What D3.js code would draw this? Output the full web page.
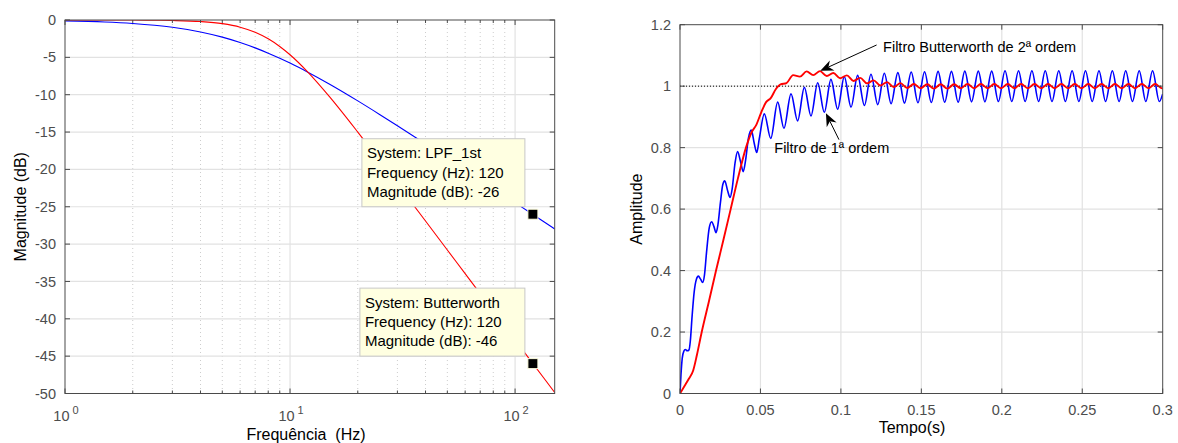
<!DOCTYPE html>
<html><head><meta charset="utf-8">
<script src="https://cdn.jsdelivr.net/npm/d3@7"></script>
<style>
body{margin:0;background:#fff;}
svg{display:block;}
text{font-family:"Liberation Sans",Arial,Helvetica,sans-serif;}
</style>
</head><body>
<svg id="c" width="1178" height="443"></svg>
<script>
// ---------------- data: Bode magnitude ----------------
const freqHz   = [1, 1.5, 2, 2.5, 3, 4, 5, 6, 7, 8, 9, 10, 12, 15, 20, 25, 30, 40, 50, 60, 70, 80, 100, 120, 150];
const lpf1stDb = [-0.12, -0.26, -0.46, -0.70, -0.97, -1.60, -2.29, -3.01, -3.73, -4.44, -5.12, -5.77, -6.99, -8.60, -10.83, -12.64, -14.15, -16.58, -18.48, -20.04, -21.37, -22.52, -24.45, -26.03, -27.97];
const butterDb = [0.00, 0.00, -0.01, -0.03, -0.07, -0.21, -0.49, -0.96, -1.64, -2.52, -3.54, -4.65, -6.97, -10.29, -15.00, -18.80, -21.93, -26.91, -30.79, -33.95, -36.63, -38.95, -42.82, -45.99, -49.87];
const magTicks = [0, -5, -10, -15, -20, -25, -30, -35, -40, -45, -50];
const decadeTicks = [1, 10, 100];
const decadeExp = ["0", "1", "2"];
const minorFreqTicks = [2, 3, 4, 5, 6, 7, 8, 9, 20, 30, 40, 50, 60, 70, 80, 90];
const tipSystems = ["LPF_1st", "Butterworth"];
const tipFreq = [120, 120];
const tipMag = [-26, -46];

// ---------------- data: step responses ----------------
const timeTicks = [0, 0.05, 0.1, 0.15, 0.2, 0.25, 0.3];
const timeTickLabels = ["0", "0.05", "0.1", "0.15", "0.2", "0.25", "0.3"];
const ampTicks = [0, 0.2, 0.4, 0.6, 0.8, 1, 1.2];
const ampTickLabels = ["0", "0.2", "0.4", "0.6", "0.8", "1", "1.2"];
const firstOrderStep = [
 [0,0],[0.0006,0.06],[0.0014,0.115],[0.0024,0.138],[0.0033,0.143],[0.0045,0.139],[0.0056,0.142],
 [0.0064,0.17],[0.0075,0.25],[0.0088,0.33],[0.0102,0.372],[0.0114,0.382],[0.0128,0.372],[0.0141,0.361],
 [0.0152,0.385],[0.0165,0.46],[0.0182,0.54],[0.0197,0.559],[0.0211,0.543],[0.0224,0.523],[0.0236,0.55],
 [0.0251,0.62],[0.0266,0.68],[0.0278,0.692],[0.0296,0.66],[0.0311,0.638],[0.0324,0.665],[0.0342,0.75],
 [0.0358,0.787],[0.0376,0.755],[0.0393,0.722],[0.0408,0.76],[0.0425,0.83],[0.0443,0.857],[0.0461,0.815],
 [0.0477,0.784],[0.0493,0.83],[0.0524,0.910],[0.0564,0.830],[0.0607,0.948],[0.0646,0.863],[0.0690,0.975],
 [0.0731,0.887],[0.0773,0.996],[0.0814,0.903],[0.0856,1.011],[0.0897,0.915],[0.0938,1.022],[0.0980,0.925],
 [0.1021,1.031],[0.1063,0.932],[0.1104,1.035],[0.1146,0.937],[0.1187,1.039],[0.1229,0.940],[0.1270,1.042],
 [0.1312,0.943],[0.1354,1.044],[0.1395,0.945],[0.1437,1.046],[0.1479,0.946],[0.1520,1.047],[0.1562,0.947],
 [0.1604,1.048],[0.1645,0.948],[0.1687,1.048],[0.1729,0.948],[0.1770,1.049],[0.1812,0.949],[0.1854,1.049],
 [0.1895,0.949],[0.1937,1.049],[0.1979,0.950],[0.2020,1.050],[0.2062,0.950],[0.2104,1.050],[0.2145,0.950],
 [0.2187,1.050],[0.2229,0.950],[0.2270,1.050],[0.2312,0.950],[0.2354,1.050],[0.2395,0.950],[0.2437,1.050],
 [0.2479,0.950],[0.2520,1.050],[0.2562,0.950],[0.2604,1.050],[0.2645,0.950],[0.2687,1.050],[0.2729,0.950],
 [0.2770,1.050],[0.2812,0.950],[0.2854,1.050],[0.2895,0.950],[0.2937,1.050],[0.2979,0.950],[0.3000,0.975]
];
const butterStep = [
 [0,0],[0.003,0.026],[0.0055,0.048],[0.0082,0.075],[0.0105,0.125],[0.0135,0.20],[0.018,0.30],[0.0224,0.40],
 [0.027,0.50],[0.0315,0.60],[0.036,0.70],[0.041,0.80],[0.0445,0.85],[0.0475,0.875],[0.0505,0.915],[0.0535,0.948],
 [0.0565,0.962],[0.0595,0.99],[0.0625,1.006],[0.0662,1.010],[0.0703,1.036],[0.0745,1.031],[0.0787,1.048],
 [0.0828,1.036],[0.0870,1.049],[0.0912,1.033],[0.0953,1.043],[0.0995,1.026],[0.1037,1.035],[0.1078,1.017],
 [0.1120,1.027],[0.1162,1.009],[0.1203,1.019],[0.1245,1.002],[0.1287,1.013],[0.1328,0.997],[0.1370,1.010],
 [0.1412,0.994],[0.1453,1.007],[0.1495,0.993],[0.1537,1.006],[0.1578,0.992],[0.1620,1.006],[0.1662,0.992],
 [0.1703,1.006],[0.1745,0.993],[0.1787,1.007],[0.1828,0.993],[0.1870,1.007],[0.1912,0.993],[0.1953,1.007],
 [0.1995,0.993],[0.2037,1.007],[0.2078,0.993],[0.2120,1.007],[0.2162,0.993],[0.2203,1.007],[0.2245,0.993],
 [0.2287,1.007],[0.2328,0.993],[0.2370,1.007],[0.2412,0.993],[0.2453,1.007],[0.2495,0.993],[0.2537,1.007],
 [0.2578,0.993],[0.2620,1.007],[0.2662,0.993],[0.2703,1.007],[0.2745,0.993],[0.2787,1.007],[0.2828,0.993],
 [0.2870,1.007],[0.2912,0.993],[0.2953,1.007],[0.2995,0.993],[0.3000,0.994]
];
const steadyLevel = 1;
const annotations = [
 {text:"Filtro Butterworth de 2ª ordem", textT:0.1262, textV:1.129, tailT:0.1222, tailV:1.134, tipT:0.0872, tipV:1.050},
 {text:"Filtro de 1ª ordem", textT:0.0586, textV:0.800, tailT:0.0988, tailV:0.826, tipT:0.0907, tipV:0.912}
];

// ---------------- drawing ----------------
const svg = d3.select("#c");
const AX = "#4a4a4a", LBL = "#4d4d4d", GRID = "#e2e2e2", TICKLEN = 5;
const FS = "14.5px";

// ===== Left panel =====
const L = {l:65, r:554.7, t:20, b:393.5};
const xF = d3.scaleLog().domain([1,150]).range([L.l, L.r]);
const yM = d3.scaleLinear().domain([-50,0]).range([L.b, L.t]);
const gL = svg.append("g");

svg.append("clipPath").attr("id","clipL").append("rect")
  .attr("x",L.l).attr("y",L.t).attr("width",L.r-L.l).attr("height",L.b-L.t);

gL.selectAll(".mg").data(minorFreqTicks).join("line")
  .attr("x1",d=>xF(d)).attr("x2",d=>xF(d)).attr("y1",L.t).attr("y2",L.b)
  .attr("stroke","#cdcdcd").attr("stroke-width",1).attr("stroke-dasharray","1,3");
gL.selectAll(".gx").data(decadeTicks.filter(d=>d>1)).join("line")
  .attr("x1",d=>xF(d)).attr("x2",d=>xF(d)).attr("y1",L.t).attr("y2",L.b)
  .attr("stroke",GRID).attr("stroke-width",1.2);
gL.selectAll(".gy").data(magTicks.filter(d=>d>-50 && d<0)).join("line")
  .attr("x1",L.l).attr("x2",L.r).attr("y1",d=>yM(d)).attr("y2",d=>yM(d))
  .attr("stroke",GRID).attr("stroke-width",1.2);

const bodeLine = (vals)=> d3.line().curve(d3.curveMonotoneX)
  .x((d,i)=>xF(freqHz[i])).y(d=>yM(d))(vals);
gL.append("path").attr("d",bodeLine(lpf1stDb)).attr("clip-path","url(#clipL)")
  .attr("fill","none").attr("stroke","#0000ff").attr("stroke-width",1.1);
gL.append("path").attr("d",bodeLine(butterDb)).attr("clip-path","url(#clipL)")
  .attr("fill","none").attr("stroke","#ff0000").attr("stroke-width",1.1);

function frame(g, B){
  g.append("rect").attr("x",B.l).attr("y",B.t).attr("width",B.r-B.l).attr("height",B.b-B.t)
   .attr("fill","none").attr("stroke",AX).attr("stroke-width",1);
}
frame(gL, L);
gL.selectAll(".tyl").data(magTicks).join("line")
  .attr("x1",L.l).attr("x2",L.l+TICKLEN).attr("y1",d=>yM(d)).attr("y2",d=>yM(d)).attr("stroke",AX);
gL.selectAll(".tyr").data(magTicks).join("line")
  .attr("x1",L.r).attr("x2",L.r-TICKLEN).attr("y1",d=>yM(d)).attr("y2",d=>yM(d)).attr("stroke",AX);
gL.selectAll(".txb").data(decadeTicks).join("line")
  .attr("x1",d=>xF(d)).attr("x2",d=>xF(d)).attr("y1",L.b).attr("y2",L.b-TICKLEN).attr("stroke",AX);
gL.selectAll(".txt").data(decadeTicks).join("line")
  .attr("x1",d=>xF(d)).attr("x2",d=>xF(d)).attr("y1",L.t).attr("y2",L.t+TICKLEN).attr("stroke",AX);
gL.selectAll(".tmb").data(minorFreqTicks).join("line")
  .attr("x1",d=>xF(d)).attr("x2",d=>xF(d)).attr("y1",L.b).attr("y2",L.b-3).attr("stroke",AX);
gL.selectAll(".tmt").data(minorFreqTicks).join("line")
  .attr("x1",d=>xF(d)).attr("x2",d=>xF(d)).attr("y1",L.t).attr("y2",L.t+3).attr("stroke",AX);

gL.selectAll(".yl").data(magTicks).join("text")
  .attr("x",L.l-9).attr("y",d=>yM(d)).attr("dy","0.35em").attr("text-anchor","end")
  .attr("fill",LBL).style("font-size",FS).text(d=>String(d));
const xl = gL.selectAll(".xl").data(decadeTicks).join("text")
  .attr("x",d=>xF(d)+1).attr("y",L.b+27).attr("text-anchor","middle")
  .attr("fill",LBL).style("font-size",FS);
xl.append("tspan").text("10");
xl.append("tspan").attr("dx","3").attr("dy","-7").style("font-size","11px").text((d,i)=>decadeExp[i]);

gL.append("text").attr("transform",`translate(26,${(L.t+L.b)/2}) rotate(-90)`)
  .attr("text-anchor","middle").attr("fill","#000").style("font-size","16px").text("Magnitude (dB)");
gL.append("text").attr("x",306).attr("y",440).attr("text-anchor","middle")
  .attr("fill","#000").style("font-size","16px").text("Frequência\u00a0 (Hz)");

// data tips
const tipWidths = [163, 165];
tipSystems.forEach((sys,i)=>{
  const mx = xF(tipFreq[i]), my = yM(tipMag[i]);
  const lines = ["System: "+sys, "Frequency (Hz): "+tipFreq[i], "Magnitude (dB): "+tipMag[i]];
  const g = gL.append("g");
  const right = mx-8, bottom = my-7.5, h = 68, w = tipWidths[i];
  const left = right - w;
  g.append("rect").attr("x",left).attr("y",bottom-h).attr("width",w).attr("height",h)
    .attr("fill","#ffffe1").attr("stroke","#c8c8c8").attr("stroke-width",1);
  lines.forEach((s,k)=>{
    g.append("text").attr("x",left+5).attr("y",bottom-h+14.5+k*19.3).attr("dy","0.35em")
      .attr("fill","#000").style("font-size","15px").text(s);
  });
  gL.append("rect").attr("x",mx-5).attr("y",my-5).attr("width",10).attr("height",10)
    .attr("fill","#000").attr("stroke","#ffffe1").attr("stroke-width",1);
});

// ===== Right panel =====
const R = {l:680, r:1162.7, t:24.7, b:393.5};
const xT = d3.scaleLinear().domain([0,0.3]).range([R.l, R.r]);
const yA = d3.scaleLinear().domain([0,1.2]).range([R.b, R.t]);
const gR = svg.append("g");
svg.append("clipPath").attr("id","clipR").append("rect")
  .attr("x",R.l).attr("y",R.t).attr("width",R.r-R.l).attr("height",R.b-R.t);

gR.selectAll(".gx").data(timeTicks.slice(1,-1)).join("line")
  .attr("x1",d=>xT(d)).attr("x2",d=>xT(d)).attr("y1",R.t).attr("y2",R.b)
  .attr("stroke",GRID).attr("stroke-width",1.2);
gR.selectAll(".gy").data(ampTicks.slice(1,-1)).join("line")
  .attr("x1",R.l).attr("x2",R.r).attr("y1",d=>yA(d)).attr("y2",d=>yA(d))
  .attr("stroke",GRID).attr("stroke-width",1.2);
gR.append("line").attr("x1",R.l).attr("x2",R.r).attr("y1",yA(steadyLevel)).attr("y2",yA(steadyLevel))
  .attr("stroke","#000").attr("stroke-width",1).attr("stroke-dasharray","1,2");

const stepLine = d3.line().curve(d3.curveMonotoneX).x(d=>xT(d[0])).y(d=>yA(d[1]));
gR.append("path").attr("d",stepLine(firstOrderStep)).attr("clip-path","url(#clipR)")
  .attr("fill","none").attr("stroke","#0000ff").attr("stroke-width",1.6);
gR.append("path").attr("d",stepLine(butterStep)).attr("clip-path","url(#clipR)")
  .attr("fill","none").attr("stroke","#ff0000").attr("stroke-width",1.9);

frame(gR, R);
gR.selectAll(".tyl").data(ampTicks).join("line")
  .attr("x1",R.l).attr("x2",R.l+TICKLEN).attr("y1",d=>yA(d)).attr("y2",d=>yA(d)).attr("stroke",AX);
gR.selectAll(".tyr").data(ampTicks).join("line")
  .attr("x1",R.r).attr("x2",R.r-TICKLEN).attr("y1",d=>yA(d)).attr("y2",d=>yA(d)).attr("stroke",AX);
gR.selectAll(".txb").data(timeTicks).join("line")
  .attr("x1",d=>xT(d)).attr("x2",d=>xT(d)).attr("y1",R.b).attr("y2",R.b-TICKLEN).attr("stroke",AX);
gR.selectAll(".txt").data(timeTicks).join("line")
  .attr("x1",d=>xT(d)).attr("x2",d=>xT(d)).attr("y1",R.t).attr("y2",R.t+TICKLEN).attr("stroke",AX);

gR.selectAll(".yl").data(ampTicks).join("text")
  .attr("x",R.l-9).attr("y",d=>yA(d)).attr("dy","0.35em").attr("text-anchor","end")
  .attr("fill",LBL).style("font-size",FS).text((d,i)=>ampTickLabels[i]);
gR.selectAll(".xl").data(timeTicks).join("text")
  .attr("x",d=>xT(d)).attr("y",R.b+21.5).attr("text-anchor","middle")
  .attr("fill",LBL).style("font-size",FS).text((d,i)=>timeTickLabels[i]);

gR.append("text").attr("transform",`translate(642,${(R.t+R.b)/2}) rotate(-90)`)
  .attr("text-anchor","middle").attr("fill","#000").style("font-size","16px").text("Amplitude");
gR.append("text").attr("x",912).attr("y",433).attr("text-anchor","middle")
  .attr("fill","#000").style("font-size","16px").text("Tempo(s)");

annotations.forEach(a=>{
  gR.append("text").attr("x",xT(a.textT)).attr("y",yA(a.textV)).attr("dy","0.35em")
    .attr("fill","#000").style("font-size","14.5px").text(a.text);
  const x1 = xT(a.tailT), y1 = yA(a.tailV), x2 = xT(a.tipT), y2 = yA(a.tipV);
  const dx = x2-x1, dy = y2-y1, len = Math.hypot(dx,dy), ux = dx/len, uy = dy/len, nx = -uy, ny = ux;
  const hl = 13, hw = 5.5, notch = 4;
  gR.append("line").attr("x1",x1).attr("y1",y1).attr("x2",x2-ux*(hl-notch)).attr("y2",y2-uy*(hl-notch))
    .attr("stroke","#000").attr("stroke-width",1);
  const pts = [[x2,y2],[x2-ux*hl+nx*hw, y2-uy*hl+ny*hw],[x2-ux*(hl-notch), y2-uy*(hl-notch)],[x2-ux*hl-nx*hw, y2-uy*hl-ny*hw]];
  gR.append("polygon").attr("points",pts.map(p=>p.join(",")).join(" ")).attr("fill","#000");
});
</script>
</body></html>
